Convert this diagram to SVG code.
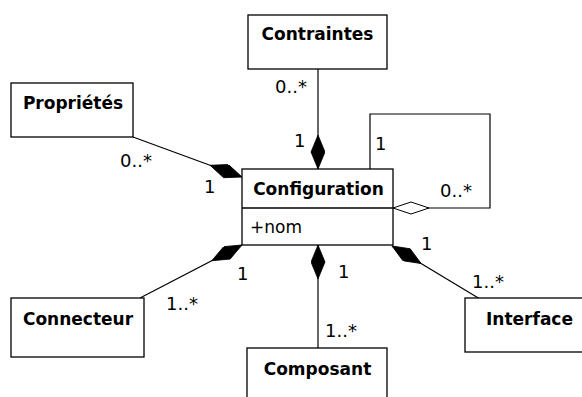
<svg xmlns="http://www.w3.org/2000/svg" width="582" height="397" viewBox="0 0 582 397">
<defs>
<style>
.box{fill:#fff;stroke:#000;stroke-width:1.3}
.name{font-family:"DejaVu Sans",Verdana,sans-serif;font-weight:bold;font-size:17px;text-anchor:middle;fill:#000}
.attr{font-family:"DejaVu Sans",Verdana,sans-serif;font-size:17px;fill:#000}
.lbl{font-family:"DejaVu Sans",Verdana,sans-serif;font-size:18px;fill:#000}
.edge{fill:none;stroke:#000;stroke-width:1.2}
</style>
<marker id="comp" markerUnits="userSpaceOnUse" markerWidth="36" markerHeight="16" refX="34" refY="7" orient="auto">
<path d="M0,7 L17,0 L34,7 L17,14 Z" fill="#000" stroke="#000" stroke-width="0.8"/>
</marker>
<marker id="aggr" markerUnits="userSpaceOnUse" markerWidth="40" markerHeight="16" refX="37" refY="7" orient="auto">
<path d="M1,7 L19,1 L37,7 L19,13 Z" fill="#fff" stroke="#000" stroke-width="1"/>
</marker>
</defs>
<rect width="582" height="397" fill="#fff"/>
<g id="connectors">
<line class="edge" x1="318" y1="69" x2="318" y2="169" marker-end="url(#comp)"/>
<line class="edge" x1="133" y1="137" x2="242" y2="177" marker-end="url(#comp)"/>
<line class="edge" x1="140" y1="298" x2="242" y2="245" marker-end="url(#comp)"/>
<line class="edge" x1="318" y1="348" x2="318" y2="245" marker-end="url(#comp)"/>
<line class="edge" x1="480" y1="299" x2="392" y2="246" marker-end="url(#comp)"/>
<polyline class="edge" points="370,169 370,114 490,114 490,208 393,208" marker-end="url(#aggr)"/>
<text class="lbl" x="275" y="93">0..*</text>
<text class="lbl" x="294" y="147">1</text>
<text class="lbl" x="120" y="167">0..*</text>
<text class="lbl" x="204" y="193">1</text>
<text class="lbl" x="375" y="150">1</text>
<text class="lbl" x="440" y="197">0..*</text>
<text class="lbl" x="237" y="280">1</text>
<text class="lbl" x="166" y="310">1..*</text>
<text class="lbl" x="338" y="278">1</text>
<text class="lbl" x="325" y="337">1..*</text>
<text class="lbl" x="421" y="250">1</text>
<text class="lbl" x="472" y="288">1..*</text>
</g>
<g id="node-contraintes">
<rect class="box" x="248" y="15" width="139" height="54"/>
<text class="name" x="317.5" y="40">Contraintes</text>
</g>
<g id="node-proprietes">
<rect class="box" x="11" y="83" width="122" height="54"/>
<text class="name" x="73" y="109">Propriétés</text>
</g>
<g id="node-configuration">
<rect class="box" x="242" y="169" width="151" height="76"/>
<line x1="242" y1="208" x2="393" y2="208" stroke="#000" stroke-width="1.3"/>
<text class="name" x="318.5" y="195">Configuration</text>
<text class="attr" x="250" y="233">+nom</text>
</g>
<g id="node-connecteur">
<rect class="box" x="11" y="298" width="133" height="59"/>
<text class="name" x="78" y="325">Connecteur</text>
</g>
<g id="node-composant">
<rect class="box" x="247" y="348" width="140" height="60"/>
<text class="name" x="317.5" y="375">Composant</text>
</g>
<g id="node-interface">
<rect class="box" x="465" y="298" width="130" height="54"/>
<text class="name" x="529.5" y="325">Interface</text>
</g>
</svg>
